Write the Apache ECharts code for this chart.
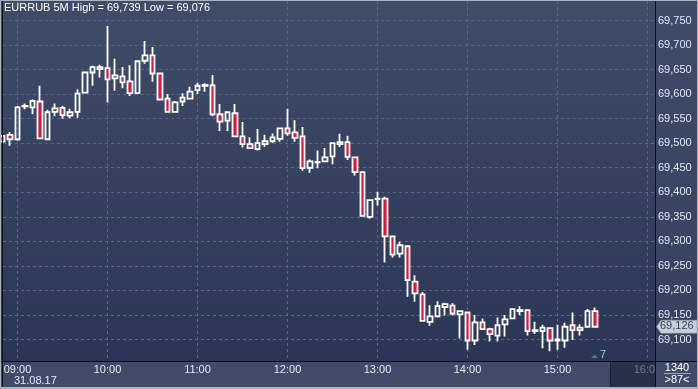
<!DOCTYPE html>
<html><head><meta charset="utf-8">
<script src="https://cdn.jsdelivr.net/npm/echarts@6/dist/echarts.min.js"></script>
<style>html,body{margin:0;padding:0;background:#3e4a66;}#c{width:698px;height:389px;}</style>
</head><body><div id="c"></div>
<script>
const times = ['08:50','08:55','09:00','09:05','09:10','09:15','09:20','09:25','09:30','09:35','09:40','09:45','09:50','09:55',
'10:00','10:05','10:10','10:15','10:20','10:25','10:30','10:35','10:40','10:45','10:50','10:55',
'11:00','11:05','11:10','11:15','11:20','11:25','11:30','11:35','11:40','11:45','11:50','11:55',
'12:00','12:05','12:10','12:15','12:20','12:25','12:30','12:35','12:40','12:45','12:50','12:55',
'13:00','13:05','13:10','13:15','13:20','13:25','13:30','13:35','13:40','13:45','13:50','13:55',
'14:00','14:05','14:10','14:15','14:20','14:25','14:30','14:35','14:40','14:45','14:50','14:55',
'15:00','15:05','15:10','15:15','15:20','15:25'];
const opens = [69.503,69.517,69.508,69.575,69.573,69.585,69.508,69.564,69.572,69.556,69.564,69.603,69.644,69.655,
69.653,69.632,69.636,69.626,69.602,69.668,69.679,69.642,69.591,69.564,69.585,69.591,
69.608,69.617,69.618,69.559,69.546,69.561,69.514,69.498,69.488,69.498,69.504,69.509,
69.530,69.522,69.514,69.450,69.461,69.463,69.473,69.498,69.502,69.471,69.441,69.350,
69.386,69.387,69.310,69.275,69.290,69.218,69.192,69.136,69.147,69.166,69.169,69.151,
69.155,69.098,69.135,69.121,69.108,69.131,69.143,69.158,69.160,69.117,69.117,69.123,
69.098,69.098,69.129,69.119,69.126,69.158];
const closes = [69.515,69.508,69.573,69.576,69.586,69.510,69.563,69.571,69.557,69.563,69.601,69.644,69.655,69.651,
69.630,69.638,69.624,69.602,69.667,69.679,69.642,69.589,69.564,69.583,69.593,69.605,
69.617,69.619,69.559,69.544,69.563,69.514,69.498,69.490,69.500,69.504,69.512,69.530,
69.520,69.511,69.449,69.463,69.462,69.471,69.500,69.502,69.472,69.441,69.352,69.384,
69.387,69.310,69.273,69.292,69.221,69.194,69.138,69.147,69.168,69.172,69.153,69.158,
69.098,69.135,69.121,69.111,69.129,69.141,69.162,69.160,69.117,69.119,69.124,69.098,
69.100,69.126,69.119,69.124,69.158,69.126];
const lows = [69.502,69.495,69.505,69.569,69.559,69.508,69.507,69.555,69.550,69.551,69.552,69.602,69.617,69.634,
69.583,69.607,69.612,69.596,69.601,69.662,69.625,69.588,69.562,69.563,69.576,69.589,
69.600,69.605,69.555,69.525,69.525,69.514,69.491,69.489,69.485,69.493,69.501,69.503,
69.515,69.503,69.444,69.440,69.449,69.462,69.457,69.492,69.466,69.434,69.351,69.346,
69.373,69.257,69.267,69.267,69.187,69.177,69.136,69.128,69.145,69.149,69.149,69.102,
69.079,69.089,69.120,69.096,69.096,69.106,69.143,69.150,69.108,69.111,69.082,69.076,
69.079,69.083,69.099,69.108,69.126,69.124];
const highs = [69.516,69.523,69.576,69.581,69.589,69.617,69.568,69.581,69.576,69.570,69.610,69.645,69.658,69.660,
69.739,69.672,69.655,69.659,69.668,69.708,69.696,69.643,69.600,69.586,69.602,69.615,
69.623,69.622,69.639,69.580,69.564,69.580,69.543,69.512,69.529,69.517,69.520,69.531,
69.570,69.547,69.533,69.467,69.485,69.490,69.501,69.519,69.515,69.471,69.442,69.386,
69.401,69.391,69.310,69.299,69.290,69.231,69.197,69.170,69.178,69.175,69.174,69.158,
69.157,69.150,69.143,69.124,69.145,69.150,69.162,69.168,69.160,69.136,69.130,69.123,
69.130,69.134,69.155,69.131,69.162,69.165];
const hourLabels = ['09:00','10:00','11:00','12:00','13:00','14:00','15:00','16:00'];
const yTicks = [69.10,69.15,69.20,69.25,69.30,69.35,69.40,69.45,69.50,69.55,69.60,69.65,69.70,69.75];
const titleText = 'EURRUB 5M High = 69,739 Low = 69,076';
const lastPrice = 69.126;
const dateLabel = '31.08.17';
const footerTop = '1340';
const footerBottom = '>87<';
const markerLabel = '7';

const FONT = "'Liberation Sans Narrow', 'Liberation Sans', Arial, sans-serif";
const firstHourIdx = times.indexOf('09:00');
const hourTicks = hourLabels.map((_, k) => firstHourIdx + 12 * k);
const data = times.map((t, i) => [i, opens[i], closes[i], lows[i], highs[i]]);
const fmt = v => v.toFixed(3).replace('.', ',');

// layout
const gL = 3, gT = 1, gW = 652, gH = 360, slot = 7.5;
const xMin = firstHourIdx - (17.5 - gL) / slot;
const xMax = xMin + gW / slot;
const yPx = 490.8;
const yMax = 69.75 + 19.5 / yPx;
const yMin = 69.10 - 21.5 / yPx;

const chart = echarts.init(document.getElementById('c'), null, {renderer: 'canvas'});
const option = {
  animation: false,
  backgroundColor: '#3e4a66',
  grid: {left: gL, top: gT, width: gW, height: gH, containLabel: false},
  xAxis: {
    type: 'value', min: xMin, max: xMax,
    axisLine: {show: false}, axisTick: {show: false, customValues: hourTicks},
    axisLabel: {
      customValues: hourTicks, margin: 3, color: '#e2e9f3', fontSize: 11, fontFamily: FONT,
      formatter: v => {
        const k = hourTicks.indexOf(Math.round(v));
        const s = k >= 0 ? hourLabels[k] : '';
        return k === hourLabels.length - 1 ? '{dim|' + s + '}' : s;
      },
      rich: {dim: {color: '#717e97', fontSize: 11, fontFamily: FONT}}
    },
    splitLine: {show: true, lineStyle: {color: '#56658a', type: [3, 3], width: 1}}
  },
  yAxis: {
    type: 'value', position: 'right', min: yMin, max: yMax, scale: true,
    axisLine: {show: false}, axisTick: {show: false, customValues: yTicks},
    axisLabel: {customValues: yTicks, margin: 3, color: '#dce8f8', fontSize: 11, fontFamily: FONT, formatter: v => fmt(v)},
    splitLine: {show: true, lineStyle: {color: '#56658a', type: [3, 3], width: 1}}
  },
  series: [{
    type: 'candlestick',
    data: data,
    encode: {x: 0, y: [1, 2, 3, 4]},
    barWidth: 5.2,
    itemStyle: {color: 'rgba(0,0,0,0)', color0: '#e0163c', borderColor: '#ffffff', borderColor0: '#ffffff', borderWidth: 1.8}
  }],
  graphic: [
    {type: 'rect', z: -100, silent: true, shape: {x: 0, y: 0, width: 656, height: 362},
      style: {fill: new echarts.graphic.LinearGradient(0, 0, 0, 1, [{offset: 0, color: '#3f4c68'}, {offset: 1, color: '#2b3656'}])}},
    {type: 'rect', z: -100, silent: true, shape: {x: 656, y: 0, width: 42, height: 362},
      style: {fill: new echarts.graphic.LinearGradient(0, 0, 0, 1, [{offset: 0, color: '#3e4b67'}, {offset: 1, color: '#35415f'}])}},
    {type: 'rect', z: -100, silent: true, shape: {x: 0, y: 362, width: 698, height: 27}, style: {fill: '#3f4b68'}},
    {type: 'rect', z: -90, silent: true, shape: {x: 611, y: 362, width: 44, height: 25}, style: {fill: '#28314a'}},
    {type: 'rect', z: 50, silent: true, shape: {x: 656, y: 362, width: 42, height: 25}, style: {fill: '#3f4b68'}},
    {type: 'line', z: 60, silent: true, shape: {x1: 655.5, y1: 0, x2: 655.5, y2: 387}, style: {stroke: '#0c0f18', lineWidth: 1}},
    {type: 'line', z: 60, silent: true, shape: {x1: 0, y1: 361.5, x2: 698, y2: 361.5}, style: {stroke: '#0c0f18', lineWidth: 1}},
    {type: 'line', z: 60, silent: true, shape: {x1: 2.5, y1: 0, x2: 2.5, y2: 389}, style: {stroke: '#0c0f18', lineWidth: 1}},
    {type: 'line', z: 60, silent: true, shape: {x1: 610.5, y1: 362, x2: 610.5, y2: 387}, style: {stroke: '#1c2233', lineWidth: 1}},
    {type: 'rect', z: 61, silent: true, shape: {x: 0.5, y: 0.5, width: 697, height: 388}, style: {fill: 'none', stroke: '#aab3c2', lineWidth: 1}},
    {type: 'line', z: 61, silent: true, shape: {x1: 0, y1: 387.5, x2: 698, y2: 387.5}, style: {stroke: '#aab3c2', lineWidth: 1}},
    {type: 'text', z: 70, silent: true, style: {x: 4, y: 2, text: titleText, fill: '#ffffff', font: '11px ' + FONT}},
    {type: 'text', z: 70, silent: true, style: {x: 14, y: 375, text: dateLabel, fill: '#e2e9f3', font: '11px ' + FONT}},
    {type: 'text', z: 70, silent: true, style: {x: 677, y: 362, text: footerTop, fill: '#ffffff', font: '11px ' + FONT, align: 'center', verticalAlign: 'top'}},
    {type: 'line', z: 70, silent: true, shape: {x1: 664, y1: 373.5, x2: 691, y2: 373.5}, style: {stroke: '#9aa5b8', lineWidth: 1}},
    {type: 'text', z: 70, silent: true, style: {x: 677, y: 374.5, text: footerBottom, fill: '#ffffff', font: '11px ' + FONT, align: 'center', verticalAlign: 'top'}},
    {type: 'polygon', z: 70, silent: true, shape: {points: [[591, 358], [594.5, 354.5], [598, 358]]}, style: {fill: '#66728c'}},
    {type: 'text', z: 70, silent: true, style: {x: 600, y: 349, text: markerLabel, fill: '#9cc8f2', font: '11px ' + FONT, verticalAlign: 'top'}}
  ]
};
chart.setOption(option);
const py = chart.convertToPixel({yAxisIndex: 0}, lastPrice);
const opt2 = option.graphic.concat([
  {type: 'polygon', z: 80, silent: true, shape: {points: [[656.5, py], [661, py - 6.5], [697, py - 6.5], [697, py + 6.5], [661, py + 6.5]]},
    style: {fill: '#c9ced7', stroke: '#8f98a8', lineWidth: 0.5}},
  {type: 'text', z: 81, silent: true, style: {x: 660, y: py - 6, text: fmt(lastPrice), fill: '#34425e', font: '11px ' + FONT, verticalAlign: 'top'}}
]);
chart.setOption({graphic: opt2});
</script></body></html>
